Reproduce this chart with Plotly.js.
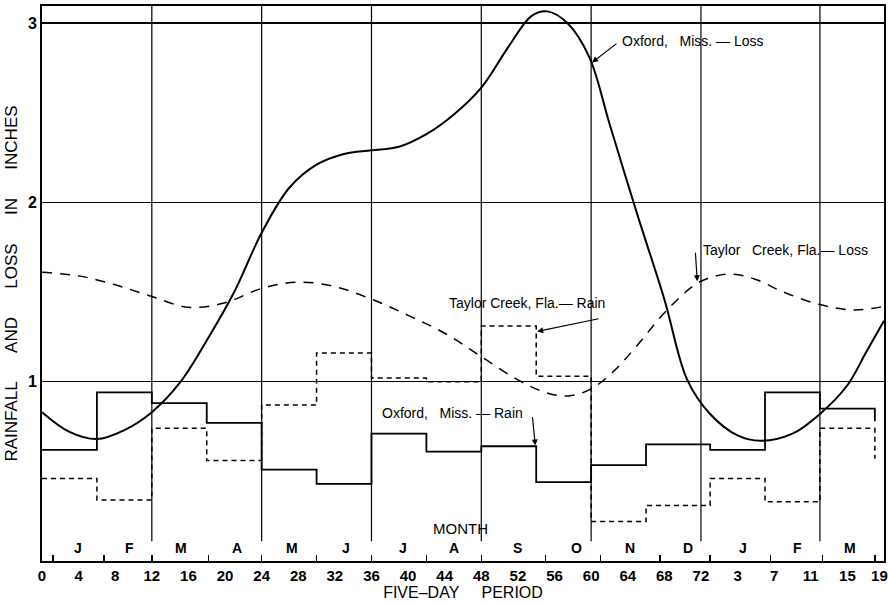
<!DOCTYPE html>
<html>
<head>
<meta charset="utf-8">
<script src="https://cdn.plot.ly/plotly-3.0.1.min.js"></script>
<style>html,body{margin:0;padding:0;background:#fff;}#chart{width:888px;height:603px;}</style>
</head>
<body>
<div id="chart"></div>
<script>
// ---- data ----
const xTickVals = [0,4,8,12,16,20,24,28,32,36,40,44,48,52,56,60,64,68,72,76,80,84,88,91.5];
const xTickText = ['0','4','8','12','16','20','24','28','32','36','40','44','48','52','56','60','64','68','72','3','7','11','15','19'];
const yTickVals = [1,2,3];
const monthNames = ['J','F','M','A','M','J','J','A','S','O','N','D','J','F','M'];
const monthLabelX = [3.9,9.6,15.2,21.3,27.3,33.2,39.4,45,51.9,58.4,64.3,70.6,76.6,82.6,88.3];
const monthTickX = [1.2,6.8,12,18.2,24,30,36,42,48,55,61,67.5,73,79.6,85.3,91];
const gridX = [12,24,36,48,60,72,85];

// Oxford, Miss. - Loss (smooth curve)
const oxLossX = [0,3,6,9,12,15,18,21,24,27,30,33,36,39,42,45,48,51,53.5,55.2,57.4,59.8,62,65,68,70.5,73,76,78.5,82,85,88,90,92];
const oxLossY = [0.83,0.72,0.68,0.73,0.83,0.99,1.23,1.50,1.83,2.08,2.21,2.27,2.29,2.31,2.38,2.49,2.64,2.87,3.04,3.065,3.0,2.81,2.44,1.94,1.46,1.01,0.82,0.70,0.67,0.71,0.82,0.98,1.16,1.34];

// Taylor Creek, Fla. - Loss (smooth dashed curve)
const tcLossX = [0,4,8,12,16,20,24,28,32,36,40,44,48,52,55,57.5,60,62.5,65,68.3,72,75.3,78,81,85,88.7,92];
const tcLossY = [1.61,1.59,1.54,1.475,1.415,1.44,1.52,1.555,1.53,1.46,1.37,1.27,1.14,1.01,0.94,0.92,0.96,1.06,1.2,1.40,1.56,1.60,1.57,1.50,1.43,1.40,1.42];

// Monthly rainfall steps (start of each month in five-day periods)
const rainX = [0,6,12,18,24,30,36,42,48,54,60,66,73,79,85,91];
const oxRainY = [0.62,0.94,0.88,0.77,0.51,0.43,0.71,0.61,0.64,0.44,0.535,0.65,0.62,0.94,0.85,0.78];
const tcRainY = [0.46,0.34,0.74,0.56,0.87,1.16,1.02,1.00,1.31,1.03,0.22,0.31,0.46,0.33,0.74,0.57];

// ---- chart ----
const FONT = 'Liberation Sans, Arial, sans-serif';
const traces = [
  {x: oxLossX, y: oxLossY, mode: 'lines', line: {color: '#000', width: 2, shape: 'spline', smoothing: 1}, name: 'Oxford, Miss. - Loss'},
  {x: tcLossX, y: tcLossY, mode: 'lines', line: {color: '#000', width: 1.5, shape: 'spline', smoothing: 1, dash: '10px,8px'}, name: 'Taylor Creek, Fla. - Loss'},
  {x: rainX, y: oxRainY, mode: 'lines', line: {color: '#000', width: 1.8, shape: 'hv'}, name: 'Oxford, Miss. - Rain'},
  {x: rainX, y: tcRainY, mode: 'lines', line: {color: '#000', width: 1.5, shape: 'hv', dash: '5px,4px'}, name: 'Taylor Creek, Fla. - Rain'}
];

const shapes = gridX.map(g => ({type: 'line', xref: 'x', yref: 'y', x0: g, x1: g, y0: 0.11, y1: 3.095, line: {color: '#000', width: 1.2}, layer: 'below'}));

const nb = '\u00a0';
const sp = n => nb.repeat(n);
const annotations = [];
monthNames.forEach((m, i) => annotations.push({x: monthLabelX[i], y: 0.07, xref: 'x', yref: 'y', text: m, showarrow: false, font: {family: FONT, size: 14, color: '#000', weight: 'bold'}}));
annotations.push({x: 45.7, y: 0.18, xref: 'x', yref: 'y', text: 'MONTH', showarrow: false, font: {family: FONT, size: 15, color: '#000'}});

const labFont = {family: FONT, size: 14, color: '#000'};
// labels
annotations.push({x: 63.1, y: 2.9, xref: 'x', yref: 'y', xanchor: 'left', text: 'Oxford,' + sp(3) + 'Miss. \u2014 Loss', showarrow: false, font: labFont});
annotations.push({x: 72.0, y: 1.737, xref: 'x', yref: 'y', xanchor: 'left', text: 'Taylor' + sp(3) + 'Creek,' + nb + 'Fla.\u2014 Loss', showarrow: false, font: labFont});
annotations.push({x: 44.3, y: 1.436, xref: 'x', yref: 'y', xanchor: 'left', text: 'Taylor' + nb + 'Creek,' + nb + 'Fla.\u2014 Rain', showarrow: false, font: labFont});
annotations.push({x: 36.9, y: 0.823, xref: 'x', yref: 'y', xanchor: 'left', text: 'Oxford,' + sp(3) + 'Miss. \u2014 Rain', showarrow: false, font: labFont});
// arrows
const arr = {xref: 'x', yref: 'y', text: '', showarrow: true, arrowhead: 2, arrowsize: 1, arrowwidth: 1.2, arrowcolor: '#000'};
annotations.push(Object.assign({}, arr, {x: 60.1, y: 2.78, ax: 26, ay: -20}));
annotations.push(Object.assign({}, arr, {x: 71.6, y: 1.56, ax: -2, ay: -30}));
annotations.push(Object.assign({}, arr, {x: 54.1, y: 1.28, ax: 63, ay: -13}));
annotations.push(Object.assign({}, arr, {x: 53.9, y: 0.644, ax: -3, ay: -30}));

const layout = {
  width: 888, height: 603,
  margin: {l: 42, r: 4, t: 6, b: 42, pad: 0},
  paper_bgcolor: '#fff', plot_bgcolor: '#fff',
  showlegend: false,
  font: {family: FONT, color: '#000'},
  xaxis: {
    range: [0, 92], tickmode: 'array', tickvals: xTickVals, ticktext: xTickText,
    ticks: '', showgrid: false, zeroline: false, ticklabeloverflow: 'allow',
    showline: true, linecolor: '#000', linewidth: 2, mirror: true,
    tickfont: {family: FONT, size: 15, color: '#000', weight: 'bold'},
    minor: {tickmode: 'array', tickvals: monthTickX, ticks: 'inside', ticklen: 6, tickwidth: 1.5, tickcolor: '#000', showgrid: false},
    title: {text: 'FIVE\u2013DAY' + sp(5) + 'PERIOD', font: {family: FONT, size: 16, color: '#000'}, standoff: 3}
  },
  yaxis: {
    range: [0, 3.095], tickmode: 'array', tickvals: yTickVals,
    ticks: '', showgrid: true, gridcolor: '#000', gridwidth: 1.2, zeroline: false,
    showline: true, linecolor: '#000', linewidth: 2, mirror: true,
    tickfont: {family: FONT, size: 16, color: '#000', weight: 'bold'},
    title: {text: 'RAINFALL' + sp(6) + 'AND' + sp(6) + 'LOSS' + sp(6) + 'IN' + sp(6) + 'INCHES', font: {family: FONT, size: 17, color: '#000'}, standoff: 6}
  },
  shapes: shapes,
  annotations: annotations
};

Plotly.newPlot('chart', traces, layout, {displayModeBar: false, staticPlot: true});
</script>
</body>
</html>
